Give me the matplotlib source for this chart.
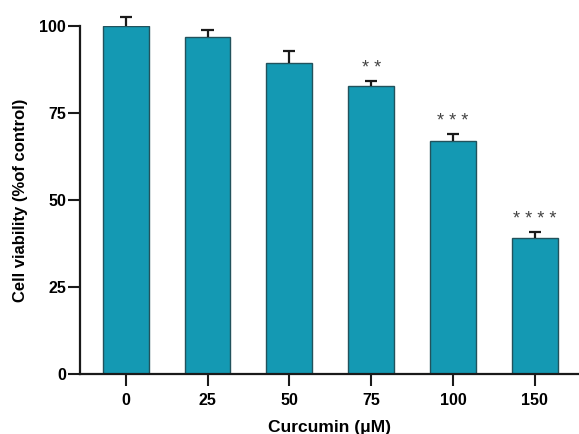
import matplotlib
matplotlib.use('Agg')
import matplotlib.pyplot as plt

# Datos
conc = ['0', '25', '50', '75', '100', '150']
viabilidad = [100.0, 96.9, 89.5, 82.8, 66.9, 39.2]
error = [2.6, 2.0, 3.4, 1.5, 2.2, 1.7]
estrellas = ['', '', '', '**', '***', '****']

plt.rcParams['font.family'] = ['Liberation Sans', 'DejaVu Sans']

fig = plt.figure(figsize=(5.79, 4.34), dpi=100)
ax = fig.add_axes([0.138, 0.138, 0.862, 0.802])

x = list(range(len(conc)))
ax.bar(x, viabilidad, width=0.56, color='#1499b3', edgecolor='#22525c',
       linewidth=1.0, zorder=2)

# barras de error solo hacia arriba
tops = [v + e for v, e in zip(viabilidad, error)]
ax.vlines(x, viabilidad, tops, colors='#1a1a1a', linewidth=1.6,
          clip_on=False, zorder=3)
ax.hlines(tops, [xi - 0.075 for xi in x], [xi + 0.075 for xi in x],
          colors='#1a1a1a', linewidth=1.6, clip_on=False, zorder=3)

for xi, t, s in zip(x, tops, estrellas):
    if s:
        ax.text(xi, t + 1.0, ' '.join(s), ha='center', va='bottom',
                fontsize=13, color='#444444')

ax.set_xlim(-0.56, 5.54)
ax.set_ylim(0, 100)
ax.set_yticks([0, 25, 50, 75, 100])
ax.set_xticks(x)
ax.set_xticklabels(conc)

for lab in ax.get_xticklabels() + ax.get_yticklabels():
    lab.set_fontweight('bold')
    lab.set_fontsize(11.5)

ax.spines['top'].set_visible(False)
ax.spines['right'].set_visible(False)
for sp in ('left', 'bottom'):
    ax.spines[sp].set_linewidth(1.6)
    ax.spines[sp].set_color('#1a1a1a')
ax.tick_params(axis='both', length=8.5, width=1.5, color='#1a1a1a')
ax.tick_params(axis='x', pad=5)
ax.tick_params(axis='y', pad=1.5)

ax.set_xlabel('Curcumin (\u03bcM)', fontsize=12.5, fontweight='bold', labelpad=9)
ax.set_ylabel('Cell viability (%of control)', fontsize=12, fontweight='bold',
              labelpad=8)

fig.savefig('out.png', dpi=100)
